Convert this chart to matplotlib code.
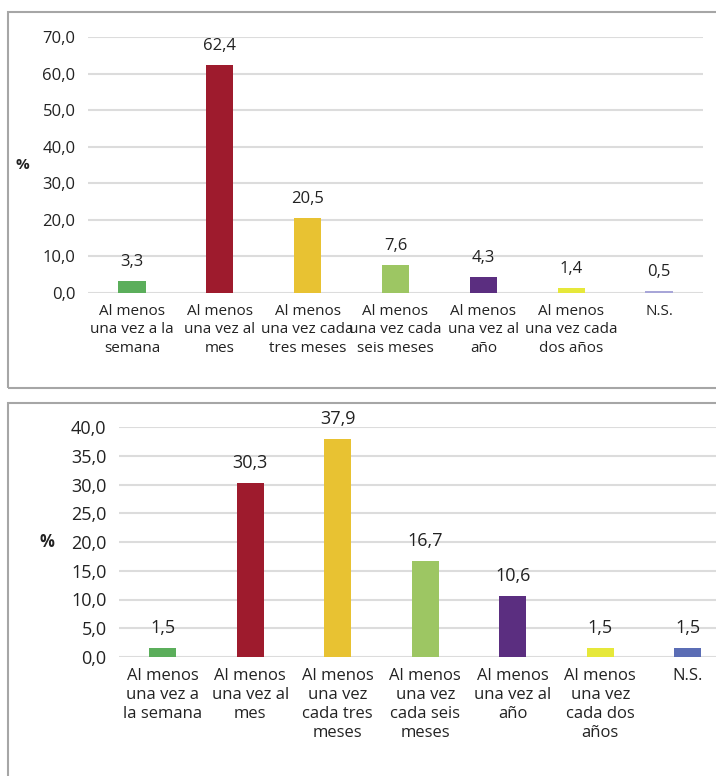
import matplotlib
matplotlib.use('Agg')
import matplotlib.pyplot as plt
from matplotlib.patches import Rectangle

plt.rcParams['font.family'] = ['Open Sans', 'DejaVu Sans']

# top chart
labels_top = ['Al menos\nuna vez a la\nsemana', 'Al menos\nuna vez al\nmes',
              'Al menos\nuna vez cada\ntres meses', 'Al menos\nuna vez cada\nseis meses',
              'Al menos\nuna vez al\naño', 'Al menos\nuna vez cada\ndos años', 'N.S.']
values_top = [3.3, 62.4, 20.5, 7.6, 4.3, 1.4, 0.5]
colors_top = ['#5BAE5B', '#9E1B2D', '#E8C232', '#9DC663', '#5B2E80', '#E6E83A', '#A8A6D8']
yticks_top = [0, 10, 20, 30, 40, 50, 60, 70]

# bottom chart
labels_bot = ['Al menos\nuna vez a\nla semana', 'Al menos\nuna vez al\nmes',
              'Al menos\nuna vez\ncada tres\nmeses', 'Al menos\nuna vez\ncada seis\nmeses',
              'Al menos\nuna vez al\naño', 'Al menos\nuna vez\ncada dos\naños', 'N.S.']
values_bot = [1.5, 30.3, 37.9, 16.7, 10.6, 1.5, 1.5]
colors_bot = ['#5BAE5B', '#9E1B2D', '#E8C232', '#9DC663', '#5B2E80', '#E6E83A', '#5B6DB5']
yticks_bot = [0, 5, 10, 15, 20, 25, 30, 35, 40]

W, H = 716, 776
fig = plt.figure(figsize=(W / 100, H / 100), dpi=100)

# panel borders
fig.patches.append(Rectangle((8 / W, 1 - 388 / H), 1.0, (388 - 12) / H, transform=fig.transFigure,
                             fill=False, edgecolor='#A6A6A6', linewidth=1.5))
fig.patches.append(Rectangle((8 / W, -0.1), 1.0, 0.1 + 1 - 403 / H, transform=fig.transFigure,
                             fill=False, edgecolor='#A6A6A6', linewidth=1.5))


def draw(ax, labels, values, colors, yticks, fs, nfs, lsp, pct_x):
    x = range(len(values))
    ax.bar(x, values, width=0.31, color=colors, zorder=3)
    ax.set_xlim(-0.5, len(values) - 0.5)
    ax.set_ylim(0, yticks[-1])
    ax.set_yticks(yticks)
    ax.set_yticklabels([f'{t:.1f}'.replace('.', ',') for t in yticks], fontsize=nfs)
    ax.set_xticks(list(x))
    ax.set_xticklabels(labels, fontsize=fs, linespacing=lsp, va='top')
    ax.tick_params(length=0, pad=9, colors='#222222')
    ax.tick_params(axis='x', pad=8)
    ax.grid(axis='y', color='#DCDCDC', linewidth=1.5, zorder=0)
    for s in ax.spines.values():
        s.set_visible(False)
    for i, v in enumerate(values):
        ax.annotate(f'{v:.1f}'.replace('.', ','), (i, v), xytext=(0, 8), textcoords='offset points',
                    ha='center', va='bottom', fontsize=nfs, color='#222222')
    ax.text(pct_x, 0.5, '%', transform=ax.transAxes, fontsize=fs, fontweight='bold',
            ha='center', va='center', color='#222222')


ax1 = fig.add_axes([88 / W, 1 - 293 / H, 615 / W, 256 / H])
draw(ax1, labels_top, values_top, colors_top, yticks_top, 11, 12, 1.3, -0.107)

ax2 = fig.add_axes([119 / W, 1 - 657 / H, 612.5 / W, 230 / H])
draw(ax2, labels_bot, values_bot, colors_bot, yticks_bot, 12, 13, 1.25, -0.117)

fig.savefig('out.png', dpi=100)
